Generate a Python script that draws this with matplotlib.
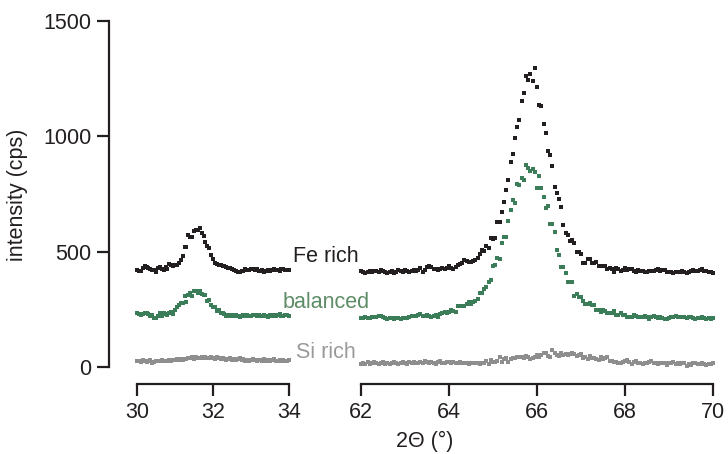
import numpy as np
import matplotlib
matplotlib.use("Agg")
import matplotlib.pyplot as plt

plt.rcParams['font.family'] = ['Liberation Sans', 'DejaVu Sans']

# ---- data (2-theta step 0.05 deg) ----
left_start, left_end = 30.0, 34.0
right_start, right_end = 62.0, 70.0
step = 0.05

fe_left = [422, 416, 418, 428, 436, 432, 428, 425, 421, 419,
           414, 428, 432, 424, 420, 432, 425, 445, 441, 440,
           441, 444, 452, 466, 482, 519, 519, 572, 562, 563,
           588, 594, 596, 601, 580, 566, 540, 524, 518, 487,
           468, 453, 446, 441, 442, 436, 437, 434, 428, 430,
           425, 420, 415, 413, 412, 416, 418, 424, 422, 419,
           423, 426, 420, 424, 418, 416, 420, 413, 418, 422,
           418, 421, 426, 419, 420, 415, 427, 423, 420, 422, 420]
bal_left = [232, 230, 226, 228, 234, 232, 230, 219, 224, 213,
            211, 222, 234, 222, 234, 230, 226, 236, 238, 230,
            248, 258, 268, 277, 279, 309, 282, 314, 320, 309,
            329, 330, 320, 329, 317, 314, 311, 288, 289, 270,
            258, 259, 243, 249, 236, 232, 228, 222, 226, 221,
            224, 219, 224, 222, 217, 220, 224, 221, 226, 222,
            219, 224, 227, 221, 225, 219, 223, 226, 222, 218,
            224, 221, 226, 220, 224, 228, 222, 219, 224, 226, 223]
si_left = [25, 28, 22, 30, 26, 20, 24, 30, 18, 22,
           28, 26, 24, 30, 27, 24, 28, 30, 26, 32,
           30, 33, 29, 35, 31, 36, 34, 40, 38, 42,
           36, 44, 40, 38, 43, 39, 45, 41, 37, 44,
           40, 36, 42, 38, 33, 40, 36, 30, 34, 38,
           31, 35, 29, 33, 37, 30, 34, 28, 32, 27,
           31, 35, 29, 26, 32, 30, 28, 33, 27, 31,
           25, 29, 34, 28, 26, 31, 27, 30, 28, 25, 29]

fe_right = [415, 410, 406, 413, 416, 410, 416, 418, 413, 420,
            417, 412, 408, 414, 416, 409, 413, 420, 416, 414,
            420, 417, 411, 416, 419, 416, 422, 430, 412, 420,
            434, 438, 432, 426, 424, 422, 426, 430, 424, 428,
            438, 429, 424, 435, 442, 446, 450, 464, 459, 457,
            455, 458, 464, 471, 488, 506, 501, 524, 514, 558,
            555, 558, 627, 630, 670, 714, 766, 809, 887, 922,
            991, 1039, 1069, 1152, 1186, 1260, 1243, 1269, 1238, 1295,
            1212, 1134, 1130, 1052, 1013, 935, 918, 870, 779, 753,
            727, 692, 614, 580, 571, 545, 549, 536, 497, 497,
            488, 449, 453, 467, 467, 449, 449, 457, 436, 440,
            436, 440, 423, 431, 423, 414,
            428, 424, 418, 422, 428, 420, 425, 423, 418, 412,
            420, 417, 415, 410, 414, 418, 416, 418, 422, 423,
            418, 420, 419, 414, 410, 412, 408, 412, 414, 412,
            415, 413, 408, 414, 418, 422, 417, 418, 421, 423,
            415, 418, 414, 412, 408]
bal_right = [214, 211, 215, 211, 214, 218, 215, 217, 219, 221,
             216, 213, 207, 212, 214, 210, 214, 212, 208, 213,
             211, 214, 217, 219, 221, 223, 225, 228, 220, 223,
             226, 222, 216, 222, 226, 218, 228, 233, 240, 236,
             238, 247, 243, 240, 264, 263, 265, 266, 272, 280,
             272, 280, 284, 293, 319, 319, 337, 345, 368, 376,
             438, 442, 471, 467, 536, 562, 562, 632, 679, 723,
             709, 792, 787, 818, 809, 874, 861, 848, 857, 844,
             775, 827, 775, 736, 688, 697, 619, 619, 584, 506,
             484, 432, 432, 406, 367, 367, 367, 306, 315, 302,
             302, 285, 272, 272, 276, 267, 267, 246, 246, 237,
             246, 244, 235, 233, 233, 242,
             226, 224, 235, 225, 224, 215, 218, 216, 225, 220,
             218, 216, 218, 220, 216, 208, 218, 220, 215, 211,
             216, 214, 206, 207, 211, 215, 218, 220, 215, 218,
             216, 218, 211, 215, 218, 213, 208, 214, 211, 216,
             212, 207, 213, 210, 212]
si_right = [13, 18, 15, 20, 14, 16, 22, 17, 12, 18,
            20, 15, 19, 13, 17, 21, 16, 14, 19, 22,
            18, 15, 20, 17, 23, 19, 16, 21, 18, 24,
            20, 17, 22, 19, 15, 21, 25, 18, 16, 22,
            20, 17, 23, 19, 16, 21, 18,
            16, 17, 15, 18, 16, 19, 16, 15, 18, 17,
            26, 13, 30, 23, 21, 28, 45, 23, 34, 41,
            23, 34, 41, 38, 45, 45, 43, 37, 48, 42,
            34, 38, 45, 52, 45, 52, 59, 62, 48, 45,
            73, 59, 52, 48, 62, 52, 56, 52, 58, 59,
            55, 48, 52, 56, 37, 45, 34, 48, 37, 37,
            33, 30, 45, 35, 37, 45, 27, 26, 23,
            20, 18, 16, 22, 27, 30, 23, 13, 22, 24,
            19, 16, 13, 18, 16, 22, 27, 19, 16, 13,
            16, 18, 19, 9, 16, 19, 21, 13, 19, 13,
            19, 16, 4, 13, 8, 16, 19, 14, 11, 17,
            13, 10, 15, 12, 16]

left_ticks = [30, 32, 34]
right_ticks = [62, 64, 66, 68, 70]
y_ticks = [0, 500, 1000, 1500]

series_names = ["Fe rich", "balanced", "Si rich"]
series_colors = ["#231f20", "#3a7d58", "#8e8e8e"]
label_colors = ["#231f20", "#5e8c66", "#9a9a9a"]

W, H = 728, 454
fig = plt.figure(figsize=(W / 100, H / 100), dpi=100)

def fx(px):
    return px / W

y0_px, y1_px = 367, 21
bottom = (H - y0_px) / H
height = (y0_px - y1_px) / H
axL = fig.add_axes([fx(137), bottom, fx(289) - fx(137), height])
axR = fig.add_axes([fx(361), bottom, fx(713) - fx(361), height])

FS = 15.5
AX = '#231f20'
for ax, data, xr, ticks in [
    (axL, [fe_left, bal_left, si_left], (left_start, left_end), left_ticks),
    (axR, [fe_right, bal_right, si_right], (right_start, right_end), right_ticks),
]:
    for vals, c in zip(data, series_colors):
        x = xr[0] + step * np.arange(len(vals))
        ax.plot(x, vals, linestyle='none', marker='s', markersize=2.3,
                markeredgewidth=0, color=c, clip_on=False)
    ax.set_xlim(*xr)
    ax.set_ylim(0, 1500)
    ax.set_xticks(ticks)
    ax.set_xticklabels([str(t) for t in ticks])
    for s in ['top', 'right']:
        ax.spines[s].set_visible(False)
    ax.spines['bottom'].set_position(('outward', 12.5))
    ax.spines['bottom'].set_linewidth(1.6)
    ax.spines['bottom'].set_color(AX)
    ax.tick_params(axis='x', length=8.5, width=1.6, color=AX,
                   labelsize=FS, pad=4.5, labelcolor=AX)
    ax.patch.set_alpha(0)

axL.spines['left'].set_position(('outward', 20.5))
axL.spines['left'].set_linewidth(1.6)
axL.spines['left'].set_color(AX)
axL.set_yticks(y_ticks)
axL.set_yticklabels([str(t) for t in y_ticks])
axL.tick_params(axis='y', length=8.5, width=1.6, color=AX,
                labelsize=FS, pad=4, labelcolor=AX)
axR.spines['left'].set_visible(False)
axR.set_yticks([])

fig.text(fx(18), 1 - 195 / H, "intensity (cps)", rotation=90,
         ha='center', va='center', fontsize=FS, color=AX)
fig.text(fx(425), 1 - 441 / H, "2\u0398 (\u00b0)",
         ha='center', va='center', fontsize=FS, color=AX)

label_y = [256, 303, 352]
for name, c, yy in zip(series_names, label_colors, label_y):
    fig.text(fx(326), 1 - yy / H, name, ha='center', va='center',
             fontsize=FS, color=c)

fig.savefig("out.png", dpi=100)
